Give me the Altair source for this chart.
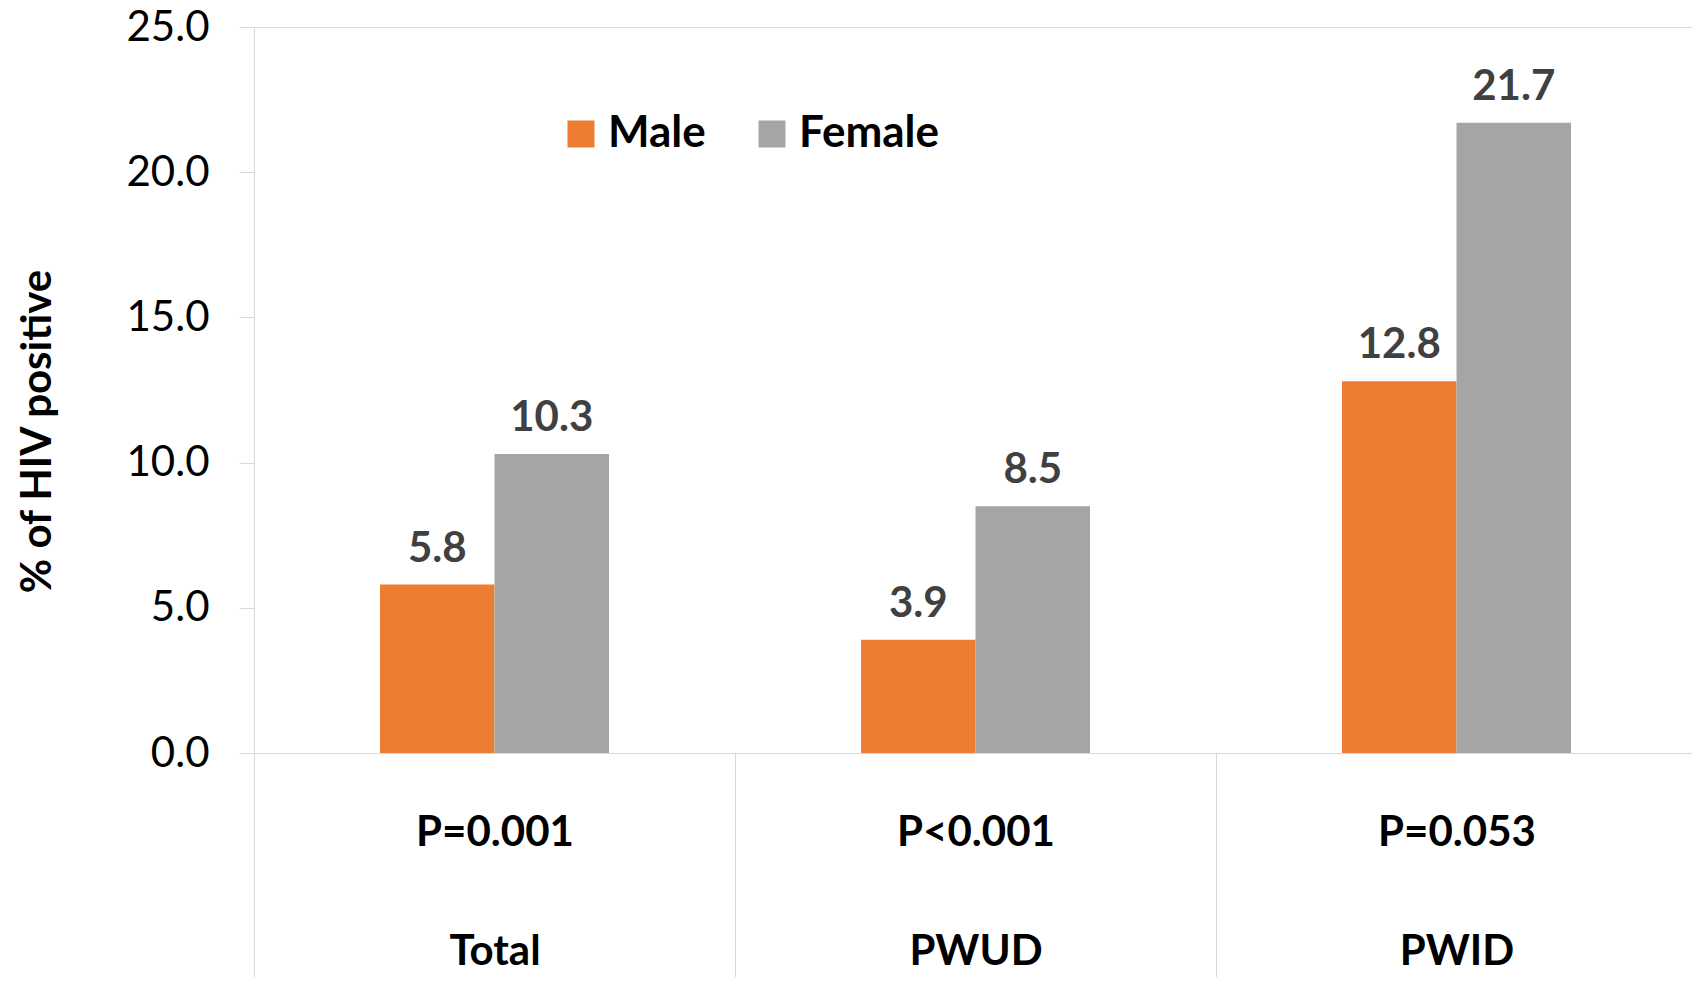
import altair as alt
import pandas as pd

categories = ["Total", "PWUD", "PWID"]
p_values = ["P=0.001", "P<0.001", "P=0.053"]
male = [5.8, 3.9, 12.8]
female = [10.3, 8.5, 21.7]
sexes = ["Male", "Female"]
colors = ["#ED7D31", "#A5A5A5"]
y_ticks = [0, 5, 10, 15, 20, 25]

rows = []
for c, m, f in zip(categories, male, female):
    rows.append({"group": c, "sex": "Male", "value": m})
    rows.append({"group": c, "sex": "Female", "value": f})
df = pd.DataFrame(rows)

label_expr = " : ".join(
    f"datum.label == '{c}' ? ['{p}', '{c}']" for c, p in zip(categories, p_values)
) + " : datum.label"

GRID = "#d9d9d9"
W = 1443
BAND = W / 3
BAR = 114.5

x_enc = alt.X(
    "group:N",
    sort=categories,
    scale=alt.Scale(paddingInner=0, paddingOuter=0),
    axis=alt.Axis(
        title=None,
        labelExpr=label_expr,
        labelAngle=0,
        tickBand="extent",
        tickSize=236,
        tickColor=GRID,
        domainColor=GRID,
        labelPadding=-144,
        labelBaseline="alphabetic",
        labelLineHeight=119,
        labelFont="Lato",
        labelFontSize=42,
        labelFontWeight="bold",
        labelColor="black",
        labelLimit=0,
    ),
)
xo_enc = alt.XOffset(
    "sex:N",
    sort=sexes,
    scale=alt.Scale(domain=sexes, range=[BAND / 2 - BAR, BAND / 2 + BAR], paddingInner=0, paddingOuter=0),
)
y_enc = alt.Y(
    "value:Q",
    scale=alt.Scale(domain=[0, 25]),
    axis=alt.Axis(
        values=y_ticks,
        format=".1f",
        grid=False,
        tickSize=15,
        tickColor=GRID,
        domainColor=GRID,
        labelPadding=30,
        labelFont="Lato",
        labelFontSize=42,
        labelColor="black",
        title="% of HIV positive",
        titleFont="Lato",
        titleFontSize=42,
        titleFontWeight="bold",
        titleColor="black",
        titleAngle=270,
        titleX=-217,
        titleY=404,
        titleAlign="center",
        titleBaseline="middle",
    ),
)

bars = alt.Chart(df).mark_bar().encode(
    x=x_enc,
    xOffset=xo_enc,
    y=y_enc,
    color=alt.Color(
        "sex:N",
        sort=sexes,
        scale=alt.Scale(domain=sexes, range=colors),
        legend=alt.Legend(
            title=None,
            orient="none",
            legendX=305,
            legendY=85,
            direction="horizontal",
            symbolType="square",
            symbolSize=729,
            symbolStrokeWidth=0,
            symbolOpacity=1,
            labelFont="Lato",
            labelFontSize=44,
            labelFontWeight="bold",
            labelColor="black",
            labelOffset=5,
            columnPadding=44,
        ),
    ),
)

labels = alt.Chart(df).mark_text(
    dy=-23, baseline="alphabetic", font="Lato", fontSize=42, fontWeight="bold", color="#404040"
).encode(
    x=x_enc,
    xOffset=xo_enc,
    y=y_enc,
    text=alt.Text("value:Q", format=".1f"),
)

chart = alt.layer(bars, labels).properties(
    width=W,
    height=726,
    padding={"left": 246, "top": 19, "right": -5, "bottom": 224},
    autosize=alt.AutoSizeParams(type="none"),
).configure_view(stroke=None).configure(background="white")

chart.save("out.html", embed_options={"renderer": "svg", "actions": False})
